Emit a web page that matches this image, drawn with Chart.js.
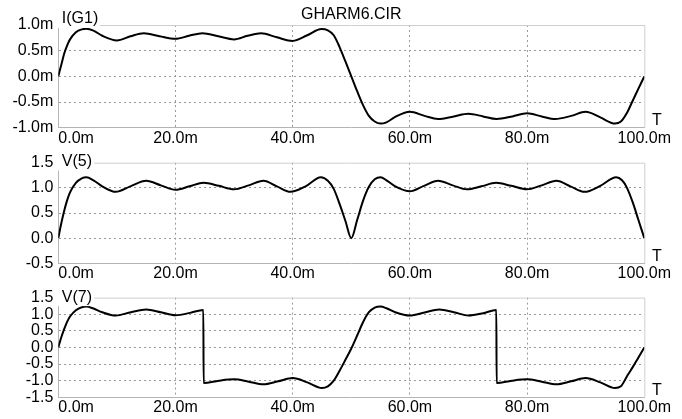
<!DOCTYPE html>
<html><head><meta charset="utf-8">
<script src="https://cdn.jsdelivr.net/npm/chart.js@4.4.1/dist/chart.umd.min.js"></script>
<style>
html,body{margin:0;padding:0;background:#fff;width:682px;height:419px;overflow:hidden}
.c{position:absolute;left:0;width:682px}
</style></head><body>
<div class="c" style="top:0;height:148px"><canvas id="c1"></canvas></div>
<div class="c" style="top:148px;height:135px"><canvas id="c2"></canvas></div>
<div class="c" style="top:283px;height:136px"><canvas id="c3"></canvas></div>
<script>
// ---- data (time in ms) ----
const chartTitle = 'GHARM6.CIR';
const xTickLabels = ['0.0m', '20.0m', '40.0m', '60.0m', '80.0m', '100.0m'];
const xAxisName = 'T';

// I(G1) in mA
const seriesName1 = 'I(G1)';
const timeI = [0,0.5,1,1.5,2,3,4,4.8,6,7.5,10,12.3,14.6,17.3,20,22.3,24.6,27.3,30,32.3,34.6,37.3,40,42.5,44.9,46,47,48,49,50,51,52,53,54,55,56,57.5,60,62.5,64.8,67.5,70,72.5,74.8,77.5,80,82.5,84.8,87.5,90,92.5,95,96,97,98,99,100];
const valuesI = [0,0.22,0.44,0.60,0.72,0.86,0.915,0.925,0.89,0.79,0.70,0.78,0.84,0.78,0.73,0.79,0.84,0.78,0.72,0.79,0.84,0.76,0.69,0.80,0.92,0.895,0.80,0.57,0.29,0.0,-0.29,-0.56,-0.77,-0.88,-0.92,-0.895,-0.79,-0.69,-0.77,-0.83,-0.78,-0.73,-0.78,-0.83,-0.78,-0.72,-0.78,-0.83,-0.77,-0.69,-0.80,-0.92,-0.88,-0.72,-0.48,-0.24,0];
const yTicks1 = ['-1.0m', '-0.5m', '0.0m', '0.5m', '1.0m'];

// V(5)
const seriesName2 = 'V(5)';
const timeV5 = [0,0.5,1,1.5,2,3,4,4.8,6,7.5,9.8,12.3,15,17.5,20,22.4,24.8,27.4,30,32.5,35,37.3,39.6,42.2,44.8,46,47,48,49,50,51,52,53,54,55,56,57.5,60,62.4,64.8,67.3,69.7,72.2,74.7,77.3,80,82.5,85,87.4,89.8,92.5,95.2,96.2,97,98,99,100];
const valuesV5 = [0,0.29,0.54,0.75,0.91,1.10,1.19,1.21,1.15,1.03,0.92,1.03,1.14,1.05,0.96,1.03,1.10,1.04,0.97,1.05,1.14,1.03,0.92,1.03,1.21,1.14,0.98,0.68,0.34,0.0,0.36,0.74,1.02,1.17,1.21,1.15,1.03,0.93,1.04,1.14,1.05,0.97,1.03,1.10,1.04,0.97,1.05,1.14,1.03,0.92,1.04,1.21,1.15,1.01,0.72,0.36,0];
const yTicks2 = ['-0.5', '0.0', '0.5', '1.0', '1.5'];

// V(7)
const seriesName3 = 'V(7)';
const timeV7 = [0,0.5,1,1.5,2,3,4,4.8,6,7.5,9.8,12.4,15,17.5,20,22.5,24.75,24.8,27.4,30,32.5,35,37.5,40,42.5,45,46,47,48,49,50,51,52,53,54,55,56,57.5,60,62.5,65,67.5,70,72.5,74.75,74.8,77.4,80,82.5,85,87.5,90,92.5,95,96,97,97.5,98,99,100];
const valuesV7 = [0,0.3,0.55,0.77,0.93,1.12,1.21,1.23,1.17,1.06,0.96,1.06,1.14,1.06,0.97,1.04,1.13,-1.07,-1.0,-0.96,-1.03,-1.11,-1.02,-0.92,-1.05,-1.22,-1.17,-1.0,-0.7,-0.37,-0.03,0.36,0.76,1.06,1.2,1.23,1.18,1.06,0.96,1.05,1.14,1.06,0.96,1.03,1.13,-1.07,-1.0,-0.96,-1.03,-1.11,-1.02,-0.92,-1.05,-1.22,-1.17,-0.88,-0.74,-0.6,-0.3,0];
const yTicks3 = ['-1.5', '-1.0', '-0.5', '0.0', '0.5', '1.0', '1.5'];

// ---- rendering ----
const FONT = "'Liberation Sans', Arial, sans-serif";
const GRID = '#9a9a9a';
const FRAME = '#cfcfcf';
const AXISLINE = '#b5b5b5';

const framePlugin = {
  id: 'frame',
  beforeDatasetsDraw(chart) {
    const a = chart.chartArea, ctx = chart.ctx;
    ctx.save();
    ctx.strokeStyle = FRAME; ctx.lineWidth = 1;
    ctx.beginPath();
    ctx.moveTo(a.left, a.top + 0.5); ctx.lineTo(a.right + 0.5, a.top + 0.5); ctx.lineTo(a.right + 0.5, a.bottom);
    ctx.stroke();
    ctx.restore();
  }
};
const labelPlugin = {
  id: 'seriesLabel',
  afterDraw(chart, args, opts) {
    const a = chart.chartArea, ctx = chart.ctx;
    ctx.save();
    ctx.font = '16px ' + FONT;
    ctx.textBaseline = 'middle';
    const w = ctx.measureText(opts.text).width;
    const y = a.top + opts.dy;
    ctx.fillStyle = '#fff';
    ctx.fillRect(a.left - 0.5, y - 9, w + 6, 18);
    ctx.fillStyle = '#000';
    ctx.textAlign = 'left';
    ctx.fillText(opts.text, a.left + 3.5, y);
    ctx.textAlign = 'center';
    ctx.fillText(xAxisName, a.right + 12.5, a.bottom - 7);
    ctx.restore();
  }
};

function makeChart(id, times, values, yLabels, name, cfg) {
  const n = yLabels.length;
  const yMin = parseFloat(yLabels[0]);
  const yMax = parseFloat(yLabels[n - 1]);
  const pts = times.map((t, i) => ({x: t, y: values[i]}));
  const edge = (min, max) => (c) => (c.tick && (Math.abs(c.tick.value - min) < 1e-9 || Math.abs(c.tick.value - max) < 1e-9)) ? 'rgba(0,0,0,0)' : GRID;
  return new Chart(document.getElementById(id), {
    type: 'line',
    data: { datasets: [{ label: name, data: pts, borderColor: '#000', borderWidth: 2, pointRadius: 0, fill: false, cubicInterpolationMode: 'monotone' }] },
    options: {
      responsive: true, maintainAspectRatio: false, animation: false, events: [],
      layout: { padding: { top: cfg.padTop, right: 37.7, left: 0, bottom: 0 } },
      plugins: {
        legend: { display: false }, tooltip: { enabled: false },
        title: cfg.title ? { display: true, text: cfg.title, fullSize: false, color: '#000', font: { family: FONT, size: 16, weight: 'normal' }, padding: { top: 5, bottom: 0.8 } } : { display: false },
        seriesLabel: { text: name, dy: cfg.labelDy }
      },
      scales: {
        x: {
          type: 'linear', min: 0, max: 100,
          afterFit: (s) => { s.height = cfg.xHeight; },
          ticks: { stepSize: 20, autoSkip: false, maxRotation: 0, padding: 1, color: '#000', font: { family: FONT, size: 16 },
            callback: (v, i) => (i === 0 ? '        ' : '') + xTickLabels[i] },
          grid: { drawTicks: false, color: edge(0, 100), lineWidth: 1 },
          border: { display: true, color: AXISLINE, width: 1, dash: [2, 3] }
        },
        y: {
          min: yMin, max: yMax,
          afterFit: (s) => { s.width = 58.3; },
          ticks: { stepSize: 0.5, autoSkip: false, padding: 5, color: '#000', font: { family: FONT, size: 16 },
            callback: (v, i) => yLabels[i] },
          grid: { drawTicks: false, color: edge(yMin, yMax), lineWidth: 1 },
          border: { display: true, color: AXISLINE, width: 1, dash: [2, 3] }
        }
      }
    },
    plugins: [framePlugin, labelPlugin]
  });
}

makeChart('c1', timeI, valuesI, yTicks1, seriesName1, { title: chartTitle, padTop: 0, xHeight: 20.3, labelDy: -6 });
makeChart('c2', timeV5, valuesV5, yTicks2, seriesName2, { padTop: 14.7, xHeight: 19.7, labelDy: -1.2 });
makeChart('c3', timeV7, valuesV7, yTicks3, seriesName3, { padTop: 14, xHeight: 21.7, labelDy: -0.5 });
</script>
</body></html>
